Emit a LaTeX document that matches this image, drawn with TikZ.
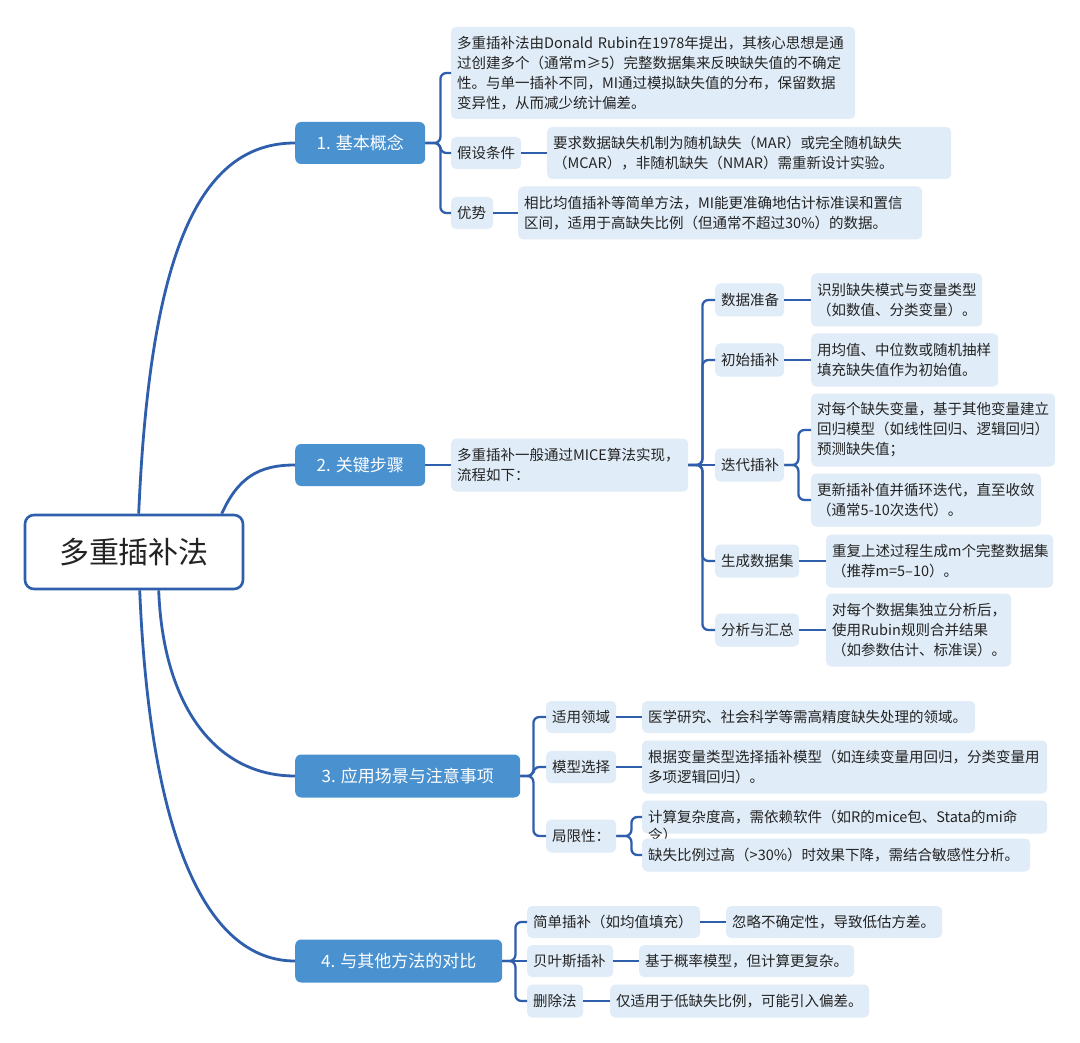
\documentclass[tikz,border=0pt]{standalone}
\usepackage{fontspec}
\setmainfont{Noto Sans CJK SC}
\usetikzlibrary{calc}
\definecolor{lineblue}{RGB}{46,94,172}
\definecolor{branchfill}{RGB}{74,145,208}
\definecolor{boxfill}{RGB}{224,236,247}
\definecolor{txt}{RGB}{35,35,35}
\hbadness=10000 \hfuzz=50pt
\begin{document}
\begin{tikzpicture}[x=1pt,y=-1pt,
 lbox/.style={fill=boxfill, rounded corners=5pt, anchor=west, inner xsep=6pt, inner ysep=0pt, align=left, text=txt, font=\fontsize{14.5}{20}\selectfont},
 bnode/.style={fill=branchfill, rounded corners=6pt, anchor=west, text=white, font=\fontsize{17}{20}\selectfont, inner sep=0pt},
 rootnode/.style={draw=lineblue, line width=2.6pt, fill=white, rounded corners=9pt, minimum width=218pt, minimum height=74pt, font=\fontsize{30}{34}\selectfont, text=txt, inner sep=0pt},
 mainline/.style={draw=lineblue, line width=2.8pt},
 brline/.style={draw=lineblue, line width=2.3pt, rounded corners=6pt}]
\fill[white] (0,0) rectangle (1080,1043);
\useasboundingbox (0,0) rectangle (1080,1043);

% root and branches
\node[rootnode] (root) at (134,552) {多重插补法};
\node[bnode, minimum width=130pt, minimum height=42pt] (n1) at (295,143) {1. 基本概念};
\node[bnode, minimum width=130pt, minimum height=42pt] (n2) at (295,465) {2. 关键步骤};
\node[bnode, minimum width=225pt, minimum height=43pt] (n3) at (295,776) {3. 应用场景与注意事项};
\node[bnode, minimum width=207pt, minimum height=43pt] (n4) at (295,961) {4. 与其他方法的对比};

\draw[mainline] ($(root.north west)+(115,0)$) .. controls (150,250) and (200,143) .. (n1.west);
\draw[mainline] ($(root.north west)+(198,0)$) .. controls (238,478) and (258,465) .. (n2.west);
\draw[mainline] ($(root.south west)+(135,0)$) .. controls (163,705) and (215,776) .. (n3.west);
\draw[mainline] ($(root.south west)+(116,0)$) .. controls (150,835) and (205,961) .. (n4.west);

% branch 1
\node[lbox, text width=392pt, minimum height=92pt] (c1a) at (451,73) {多重插补法由Donald~Rubin在1978年提出，其核心思想是通\\过创建多个（通常m≥5）完整数据集来反映缺失值的不确定\\性。与单一插补不同，MI通过模拟缺失值的分布，保留数据\\变异性，从而减少统计偏差。};
\node[lbox, text width=58pt, minimum height=32pt] (c1bl) at (451,153) {假设条件};
\node[lbox, text width=392pt, minimum height=52pt] (c1bd) at (547,153) {要求数据缺失机制为随机缺失（MAR）或完全随机缺失\\（MCAR），非随机缺失（NMAR）需重新设计实验。};
\node[lbox, text width=30pt, minimum height=32pt] (c1cl) at (451,213) {优势};
\node[lbox, text width=392pt, minimum height=53pt] (c1cd) at (518,213) {相比均值插补等简单方法，MI能更准确地估计标准误和置信\\区间，适用于高缺失比例（但通常不超过30\%）的数据。};

\draw[brline] (n1.east) -- ++(15,0) |- (c1a.west);
\draw[brline] (n1.east) -- ++(15,0) |- (c1bl.west);
\draw[brline] (n1.east) -- ++(15,0) |- (c1cl.west);
\draw[brline] (c1bl.east) -- (c1bd.west);
\draw[brline] (c1cl.east) -- (c1cd.west);

% branch 2
\node[lbox, text width=225pt, minimum height=53pt] (mice) at (451,465) {多重插补一般通过MICE算法实现，\\流程如下：};
\draw[brline] (n2.east) -- (mice.west);

\node[lbox, text width=57pt, minimum height=33pt] (s1) at (715,300) {数据准备};
\node[lbox, text width=159pt, minimum height=53pt] (s1d) at (811,300) {识别缺失模式与变量类型\\（如数值、分类变量）。};
\node[lbox, text width=57pt, minimum height=33pt] (s2) at (715,360) {初始插补};
\node[lbox, text width=175pt, minimum height=53pt] (s2d) at (811,360) {用均值、中位数或随机抽样\\填充缺失值作为初始值。};
\node[lbox, text width=57pt, minimum height=33pt] (s3) at (715,465) {迭代插补};
\node[lbox, text width=232pt, minimum height=73pt] (s3a) at (811,430) {对每个缺失变量，基于其他变量建立\\回归模型（如线性回归、逻辑回归）\\预测缺失值；};
\node[lbox, text width=218pt, minimum height=53pt] (s3b) at (811,500) {更新插补值并循环迭代，直至收敛\\（通常5-10次迭代）。};
\node[lbox, text width=72pt, minimum height=33pt] (s4) at (715,561) {生成数据集};
\node[lbox, text width=215pt, minimum height=53pt] (s4d) at (826,561) {重复上述过程生成m个完整数据集\\（推荐m=5–10）。};
\node[lbox, text width=72pt, minimum height=33pt] (s5) at (715,630) {分析与汇总};
\node[lbox, text width=173pt, minimum height=73pt] (s5d) at (826,630) {对每个数据集独立分析后，\\使用Rubin规则合并结果\\（如参数估计、标准误）。};

\draw[brline] (mice.east) -- ++(14,0) |- (s1.west);
\draw[brline] (mice.east) -- ++(14,0) |- (s2.west);
\draw[brline] (mice.east) -- (s3.west);
\draw[brline] (mice.east) -- ++(14,0) |- (s4.west);
\draw[brline] (mice.east) -- ++(14,0) |- (s5.west);
\draw[brline] (s1.east) -- (s1d.west);
\draw[brline] (s2.east) -- (s2d.west);
\draw[brline] (s3.east) -- ++(14,0) |- (s3a.west);
\draw[brline] (s3.east) -- ++(14,0) |- (s3b.west);
\draw[brline] (s4.east) -- (s4d.west);
\draw[brline] (s5.east) -- (s5d.west);

% branch 3
\node[lbox, text width=58pt, minimum height=32pt] (a3) at (546,717) {适用领域};
\node[lbox, text width=321pt, minimum height=32pt] (a3d) at (642,717) {医学研究、社会科学等需高精度缺失处理的领域。};
\node[lbox, text width=58pt, minimum height=32pt] (b3) at (546,767) {模型选择};
\node[lbox, text width=393pt, minimum height=53pt] (b3d) at (642,767) {根据变量类型选择插补模型（如连续变量用回归，分类变量用\\多项逻辑回归）。};
\node[lbox, text width=58pt, minimum height=33pt] (c3) at (546,836) {局限性：};
\node[lbox, text width=393pt, minimum height=33pt] (c3a) at (642,817) {计算复杂度高，需依赖软件（如R的mice包、Stata的mi命};
\node[anchor=west, inner sep=0pt, text=txt, font=\fontsize{14.5}{20}\selectfont] (c3at) at (648,835) {令）};
\node[lbox, text width=376pt, minimum height=33pt] (c3b) at (642,855) {缺失比例过高（>30\%）时效果下降，需结合敏感性分析。};

\draw[brline] (n3.east) -- ++(13,0) |- (a3.west);
\draw[brline] (n3.east) -- ++(13,0) |- (b3.west);
\draw[brline] (n3.east) -- ++(13,0) |- (c3.west);
\draw[brline] (a3.east) -- (a3d.west);
\draw[brline] (b3.east) -- (b3d.west);
\draw[brline] (c3.east) -- ++(15,0) |- (c3a.west);
\draw[brline] (c3.east) -- ++(15,0) |- (c3b.west);

% branch 4
\node[lbox, text width=161pt, minimum height=32pt] (a4) at (527,922) {简单插补（如均值填充）};
\node[lbox, text width=204pt, minimum height=32pt] (a4d) at (726,922) {忽略不确定性，导致低估方差。};
\node[lbox, text width=74pt, minimum height=32pt] (b4) at (527,961) {贝叶斯插补};
\node[lbox, text width=203pt, minimum height=32pt] (b4d) at (639,961) {基于概率模型，但计算更复杂。};
\node[lbox, text width=44pt, minimum height=33pt] (c4) at (527,1001) {删除法};
\node[lbox, text width=247pt, minimum height=33pt] (c4d) at (610,1001) {仅适用于低缺失比例，可能引入偏差。};

\draw[brline] (n4.east) -- ++(13,0) |- (a4.west);
\draw[brline] (n4.east) -- (b4.west);
\draw[brline] (n4.east) -- ++(13,0) |- (c4.west);
\draw[brline] (a4.east) -- (a4d.west);
\draw[brline] (b4.east) -- (b4d.west);
\draw[brline] (c4.east) -- (c4d.west);
\end{tikzpicture}
\end{document}
